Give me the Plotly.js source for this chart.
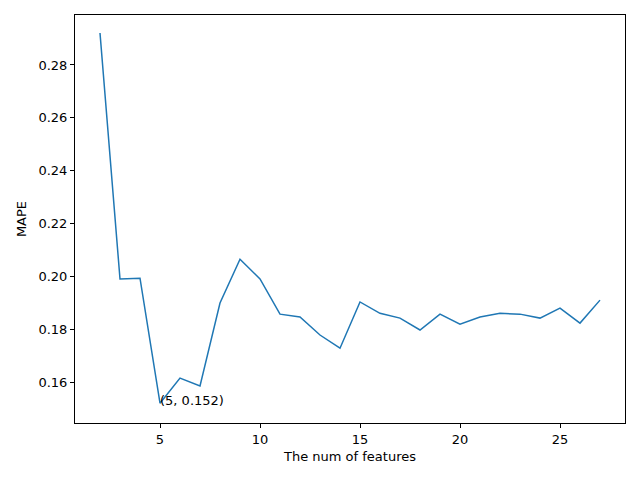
<!DOCTYPE html>
<html>
<head>
<script src="https://cdn.plot.ly/plotly-3.0.1.min.js"></script>
<style>body{margin:0}#plot{width:640px;height:480px}</style>
</head>
<body>
<div id="plot"></div>
<script>
var num_features = [2, 3, 4, 5, 6, 7, 8, 9, 10, 11, 12, 13, 14, 15, 16, 17, 18, 19, 20, 21, 22, 23, 24, 25, 26, 27]
var mape = [0.2921, 0.1990, 0.1993, 0.1520, 0.1615, 0.1585, 0.1899, 0.2065, 0.1990, 0.1857, 0.1846, 0.1778,
  0.1728, 0.1903, 0.1860, 0.1842, 0.1797, 0.1857, 0.1819, 0.1846, 0.1860, 0.1857, 0.1842, 0.1880, 0.1823, 0.1910]
var best_x = 5
var best_y = 0.152

var trace = {
  x: num_features,
  y: mape,
  type: 'scatter',
  mode: 'lines',
  line: {color: '#1f77b4', width: 1.5}
}

var axis_common = {
  showgrid: false, zeroline: false, showline: true, mirror: true,
  linecolor: 'black', linewidth: 1, ticks: 'outside', ticklen: 4,
  tickcolor: 'black', tickfont: {size: 13, color: 'black'}
}

var layout = {
  width: 640, height: 480,
  margin: {l: 75, r: 15, t: 15, b: 57},
  paper_bgcolor: 'white', plot_bgcolor: 'white',
  font: {family: 'DejaVu Sans', color: 'black'},
  showlegend: false,
  xaxis: Object.assign({}, axis_common, {
    range: [0.75, 28.25], tickvals: [5, 10, 15, 20, 25],
    title: {text: 'The num of features', font: {size: 13}, standoff: 6}
  }),
  yaxis: Object.assign({}, axis_common, {
    range: [0.1445, 0.2989], tickvals: [0.16, 0.18, 0.20, 0.22, 0.24, 0.26, 0.28],
    tickformat: '.2f',
    title: {text: 'MAPE', font: {size: 13}, standoff: 8}
  }),
  annotations: [{
    x: best_x, y: best_y, xref: 'x', yref: 'y',
    text: '(' + best_x + ', ' + best_y + ')',
    showarrow: false, xanchor: 'left', yanchor: 'bottom',
    font: {size: 13, color: 'black'}, xshift: -2, yshift: -7
  }]
}

Plotly.newPlot('plot', [trace], layout, {displayModeBar: false})
</script>
</body>
</html>
